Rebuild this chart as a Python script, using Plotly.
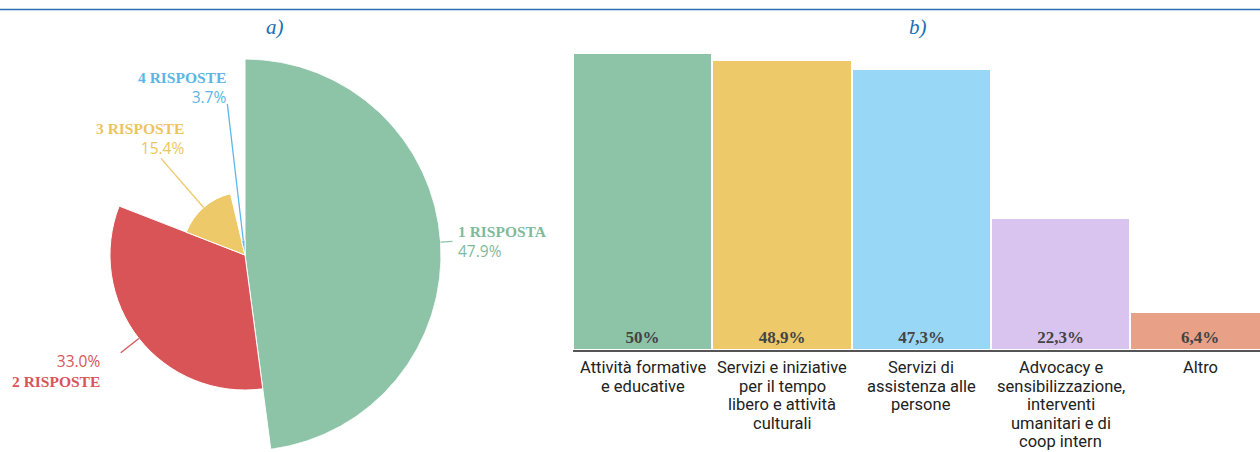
import math
import plotly.graph_objects as go

W, H = 1260, 452

# ---------------- data ----------------
pie_labels = ["1 RISPOSTA", "2 RISPOSTE", "3 RISPOSTE", "4 RISPOSTE"]
pie_values = [47.9, 33.0, 15.4, 3.7]
pie_colors = ["#8dc3a7", "#d95457", "#eec96a", "#5bb8e8"]
pie_text_colors = ["#7fbb9a", "#d9545a", "#ecc45f", "#5bb5e6"]

bar_categories = [
    "Attività formative<br>e educative",
    "Servizi e iniziative<br>per il tempo<br>libero e attività<br>culturali",
    "Servizi di<br>assistenza alle<br>persone",
    "Advocacy e<br>sensibilizzazione,<br>interventi<br>umanitari e di<br>coop intern",
    "Altro",
]
bar_values = [50, 48.9, 47.3, 22.3, 6.4]
bar_colors = ["#8dc3a7", "#eec96a", "#99d7f7", "#d9c3ef", "#e8a086"]

panel_titles = ["a)", "b)"]

# ---------------- helpers ----------------
def px(x):
    return x / W

def py(y):
    return 1 - y / H

total = sum(pie_values)
widths = [v / total * 360 for v in pie_values]
starts = []
acc = 0
for w in widths:
    starts.append(acc)
    acc += w
centers = [s + w / 2 for s, w in zip(starts, widths)]

fig = go.Figure()

# ---------------- rose pie ----------------
fig.add_trace(go.Barpolar(
    r=pie_values,
    theta=centers,
    width=widths,
    marker=dict(color=pie_colors, line=dict(color="white", width=1)),
    subplot="polar",
    hoverinfo="skip",
    showlegend=False,
))

cx, cy, R = 245, 255, 196
rmax = max(pie_values)
fig.update_layout(
    polar=dict(
        domain=dict(x=[px(cx - R), px(cx + R)], y=[py(cy + R), py(cy - R)]),
        bgcolor="rgba(0,0,0,0)",
        hole=0,
        radialaxis=dict(range=[0, rmax], visible=False),
        angularaxis=dict(visible=False, rotation=90, direction="clockwise"),
    )
)

# leader lines (from slice edge outward)
leader_out = [12, 23, 65, 137]
shapes = []
for v, th, c, extra in zip(pie_values, centers, pie_colors, leader_out):
    r0 = v / rmax * R
    r1 = r0 + extra
    t = math.radians(th)
    x0, y0 = cx + r0 * math.sin(t), cy - r0 * math.cos(t)
    x1, y1 = cx + r1 * math.sin(t), cy - r1 * math.cos(t)
    shapes.append(dict(type="line", xref="paper", yref="paper",
                       x0=px(x0), y0=py(y0), x1=px(x1), y1=py(y1),
                       line=dict(color=c, width=1.3)))

# top rule
shapes.append(dict(type="line", xref="paper", yref="paper",
                   x0=0, x1=1, y0=py(9.5), y1=py(9.5),
                   line=dict(color="#2a6db0", width=1.5)))

label_pos = [
    # (x, y-center of two-line block, anchor, name first?)
    (457, 242, "left", True),
    (101, 369.5, "right", False),
    (185, 139, "right", True),
    (227, 88.5, "right", True),
]
annotations = []
for lab, v, col, (x, y, anc, name_first) in zip(pie_labels, pie_values, pie_text_colors, label_pos):
    name = f"<b>{lab}</b>"
    pct = f"<span style='font-family:Open Sans'>{v:.1f}%</span>"
    txt = f"{name}<br>{pct}" if name_first else f"{pct}<br>{name}"
    annotations.append(dict(
        text=txt, x=px(x), y=py(y), xref="paper", yref="paper",
        xanchor=anc, yanchor="middle", align=anc, showarrow=False,
        borderpad=0,
        font=dict(family="Liberation Serif", size=15.5, color=col)))

for t, x in zip(panel_titles, [275, 918]):
    annotations.append(dict(
        text=f"<i>{t}</i>", x=px(x), y=py(27), xref="paper", yref="paper",
        xanchor="center", yanchor="middle", showarrow=False,
        font=dict(family="Liberation Serif", size=21, color="#1a6fb8")))

# category labels, one line at a time (tighter line height than plotly's default)
for cat in bar_categories:
    for i, line in enumerate(cat.split("<br>")):
        annotations.append(dict(
            text=line, x=cat, y=py(367.5 + 18.6 * i), xref="x", yref="paper",
            xanchor="center", yanchor="middle", showarrow=False,
            borderpad=0,
            font=dict(family="Roboto", size=16.5, color="#222222")))

# ---------------- bar chart ----------------
def fmt(v):
    s = f"{v:g}".replace(".", ",")
    return f"<b>{s}%</b>"

fig.add_trace(go.Bar(
    x=bar_categories,
    y=bar_values,
    marker=dict(color=bar_colors, line=dict(color="white", width=2)),
    text=[fmt(v) for v in bar_values],
    textposition="inside",
    insidetextanchor="start",
    textangle=0,
    textfont=dict(family="Liberation Serif", size=17, color="#444444"),
    xaxis="x", yaxis="y",
    hoverinfo="skip",
    showlegend=False,
))

fig.update_layout(
    width=W, height=H,
    margin=dict(l=0, r=0, t=0, b=0),
    paper_bgcolor="white",
    plot_bgcolor="white",
    bargap=0,
    xaxis=dict(
        domain=[px(573), 1],
        range=[-0.5, 4.43],
        type="category",
        showline=True, linecolor="#555555", linewidth=2,
        showgrid=False, ticks="", zeroline=False,
        showticklabels=False,
        fixedrange=True,
    ),
    yaxis=dict(
        domain=[py(350), py(53)],
        range=[0, 50],
        visible=False,
        fixedrange=True,
    ),
    shapes=shapes,
    annotations=annotations,
)

fig.write_html("out.html")
